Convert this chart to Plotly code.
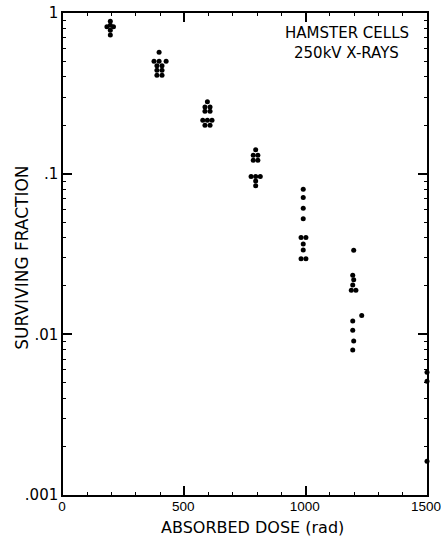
import plotly.graph_objects as go

# ---- data ----
dose_200 = [195, 195, 181, 208, 195, 195]
surv_200 = [0.89, 0.84, 0.82, 0.82, 0.78, 0.73]

dose_400 = [396, 375, 396, 425, 387, 408, 387, 408, 387, 408]
surv_400 = [0.57, 0.50, 0.50, 0.50, 0.47, 0.47, 0.44, 0.44, 0.41, 0.41]

dose_600 = [595, 585, 606, 585, 606, 576, 595, 614, 585, 606]
surv_600 = [0.28, 0.26, 0.26, 0.245, 0.245, 0.215, 0.215, 0.215, 0.20, 0.20]

dose_800 = [794, 784, 803, 784, 803, 775, 794, 813, 794, 794]
surv_800 = [0.141, 0.130, 0.130, 0.121, 0.121, 0.096, 0.096, 0.096, 0.090, 0.084]

dose_1000 = [990, 990, 990, 990, 981, 1001, 990, 990, 981, 1001]
surv_1000 = [0.080, 0.071, 0.061, 0.0525, 0.040, 0.040, 0.0365, 0.0335, 0.0295, 0.0295]

dose_1200 = [1198, 1194, 1198, 1194, 1188, 1207, 1231, 1194, 1194, 1198, 1194]
surv_1200 = [0.0334, 0.0233, 0.0219, 0.0203, 0.0188, 0.0188, 0.0131, 0.0121, 0.0106, 0.0091, 0.0080]

dose_1500 = [1500, 1500, 1500]
surv_1500 = [0.0058, 0.0051, 0.00162]

x_ticks = [0, 500, 1000, 1500]
x_ticktext = ["0", "500", "1000", "1500"]
x_minor = [100, 200, 300, 400, 600, 700, 800, 900, 1100, 1200, 1300, 1400]
y_ticks = [1, 0.1, 0.01, 0.001]
y_ticktext = ["1", ".1", ".01", ".001"]
y_minor = [m * 10.0 ** e for e in (-3, -2, -1) for m in range(2, 10)]

doses = dose_200 + dose_400 + dose_600 + dose_800 + dose_1000 + dose_1200 + dose_1500
survs = surv_200 + surv_400 + surv_600 + surv_800 + surv_1000 + surv_1200 + surv_1500

FONT = "DejaVu Sans"

fig = go.Figure()
fig.add_trace(go.Scatter(
    x=doses, y=survs, mode="markers",
    marker=dict(color="black", size=5, line=dict(width=0)),
    cliponaxis=False, showlegend=False, hoverinfo="skip",
))

fig.update_layout(
    width=441, height=537,
    margin=dict(l=63, r=14, t=13, b=42, autoexpand=False),
    paper_bgcolor="white", plot_bgcolor="white",
    font=dict(family=FONT, color="black", size=14),
    xaxis=dict(
        range=[0, 1500], showgrid=False, zeroline=False, automargin=False,
        showline=True, linecolor="black", linewidth=1.5, mirror="ticks",
        ticks="inside", ticklen=9, tickwidth=1.5, tickcolor="black",
        tickmode="array", tickvals=x_ticks, ticktext=x_ticktext,
        tickfont=dict(size=13.5, family="Liberation Sans"), ticklabeloverflow="allow",
        ticklabelstandoff=-2, ticklabelshift=-1,
        minor=dict(tickmode="array", tickvals=x_minor, ticks="inside",
                   ticklen=3, tickwidth=1, tickcolor="black", showgrid=False),
    ),
    yaxis=dict(
        type="log", range=[-3, 0], showgrid=False, zeroline=False, automargin=False,
        showline=True, linecolor="black", linewidth=1.5, mirror="ticks",
        ticks="inside", ticklen=9, tickwidth=1.5, tickcolor="black",
        tickmode="array", tickvals=y_ticks, ticktext=y_ticktext,
        tickfont=dict(size=15, family=FONT), ticklabeloverflow="allow",
        minor=dict(tickmode="array", tickvals=y_minor, ticks="inside",
                   ticklen=3, tickwidth=1, tickcolor="black", showgrid=False),
    ),
    annotations=[
        dict(text="HAMSTER CELLS", xref="paper", yref="paper", x=0.78, y=0.958,
             showarrow=False, font=dict(size=15, family=FONT), xanchor="center", yanchor="middle"),
        dict(text="250kV X-RAYS", xref="paper", yref="paper", x=0.78, y=0.917,
             showarrow=False, font=dict(size=15, family=FONT), xanchor="center", yanchor="middle"),
        dict(text="SURVIVING FRACTION", xref="paper", yref="paper", x=-0.113, y=0.492,
             textangle=-90, showarrow=False, font=dict(size=17, family=FONT),
             xanchor="center", yanchor="middle"),
        dict(text="ABSORBED DOSE (rad)", xref="paper", yref="paper", x=0.52, y=-0.0665,
             showarrow=False, font=dict(size=16, family=FONT), xanchor="center", yanchor="middle"),
    ],
)

fig.write_html("out.html", config={"displayModeBar": False},
               post_script="document.body.style.margin='0';")
